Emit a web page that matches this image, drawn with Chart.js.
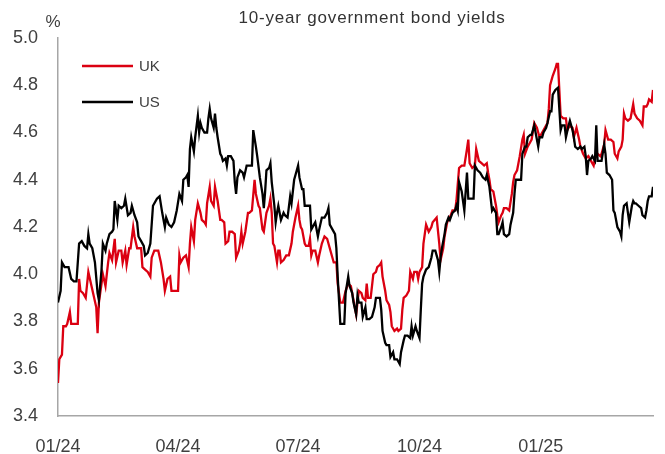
<!DOCTYPE html>
<html lang="en">
<head>
    <meta charset="UTF-8">
    <title>10-year government bond yields</title>
    <script src="https://cdnjs.cloudflare.com/ajax/libs/Chart.js/4.4.1/chart.umd.min.js"></script>
    <style>
        html, body { margin: 0; padding: 0; background: #fff; }
        #wrap { width: 665px; height: 454px; position: relative; }
    </style>
</head>
<body>
    <div id="wrap">
        <canvas id="canvasYields" aria-label="10-year government bond yields" role="img"></canvas>
    </div>

    <script>
        // x values are days since 1 Jan 2024
        const tickDays = [0, 91, 182, 274, 366]
        const tickLabels = ['01/24', '04/24', '07/24', '10/24', '01/25']

        const ukDays = [0,1,3,4,6,7,9,10,13,15,16,17,19,21,23,25,27,29,30,31,33,34,36,38,39,41,43,44,46,48,49,51,52,54,55,57,58,60,63,64,66,68,70,71,73,
            76,78,80,81,83,85,86,88,91,92,93,95,97,99,100,101,103,104,106,108,109,111,112,113,115,116,118,119,121,123,124,126,127,129,130,132,134,135,137,138,139,140,142,144,145,147,149,150,152,
            153,155,156,158,160,161,162,163,164,166,167,168,169,171,173,175,177,178,180,182,183,184,185,187,188,190,191,192,193,195,197,198,200,202,204,205,207,209,211,212,214,216,218,220,222,224,226,
            228,230,231,233,234,235,237,239,241,242,244,245,246,248,249,251,252,253,255,257,258,260,261,262,264,266,267,269,270,272,273,274,276,277,278,279,281,283,284,287,289,290,292,293,295,297,299,301,302,
            304,306,308,310,311,312,314,316,317,319,321,323,325,326,327,328,330,332,333,334,336,337,338,340,342,344,345,346,348,350,352,353,354,356,358,359,361,363,364,365,367,369,371,372,373,375,377,378,379,
            380,381,383,385,386,388,390,391,393,395,396,398,400,402,404,406,407,409,411,412,414,415,417,419,421,422,424,425,427,428,429,430,432,434,436,437,439,441,443,444,446,447,448,450,451]
        const ukYield = [3.54,3.64,3.66,3.78,3.78,3.79,3.84,3.79,3.79,3.79,3.98,3.93,3.92,3.90,4.01,3.96,3.91,3.86,3.75,3.88,3.96,4.00,3.95,4.05,4.09,4.06,4.15,4.05,4.10,4.10,4.05,4.10,4.04,4.11,4.11,4.20,4.16,4.11,4.11,4.03,4.02,4.01,3.99,4.07,4.10,
            4.10,4.05,3.98,3.93,3.98,3.99,3.93,3.93,3.93,4.08,4.05,4.07,4.08,4.03,4.13,4.20,4.14,4.23,4.30,4.26,4.23,4.22,4.21,4.30,4.37,4.31,4.29,4.37,4.31,4.23,4.23,4.22,4.13,4.14,4.18,4.18,4.17,4.07,4.10,4.13,4.18,4.13,4.18,4.26,4.26,4.27,4.40,4.34,4.29,
            4.28,4.19,4.18,4.26,4.29,4.32,4.26,4.13,4.12,4.05,4.10,4.10,4.05,4.06,4.08,4.08,4.13,4.18,4.24,4.29,4.23,4.20,4.19,4.13,4.12,4.12,4.15,4.08,4.10,4.10,4.05,4.08,4.13,4.16,4.15,4.13,4.09,4.05,4.05,3.96,3.88,3.88,3.93,3.96,3.95,3.89,3.83,
            3.93,3.92,3.90,3.89,3.96,3.90,3.90,4.00,4.01,4.03,4.04,4.05,3.99,3.93,3.89,3.87,3.84,3.78,3.76,3.77,3.76,3.77,3.85,3.90,3.91,3.93,4.01,3.98,4.01,4.01,3.98,4.01,4.03,4.13,4.17,4.21,4.18,4.20,4.22,4.24,4.13,4.06,4.11,4.16,4.22,4.24,4.27,4.27,4.31,
            4.45,4.46,4.46,4.53,4.57,4.47,4.45,4.46,4.53,4.48,4.47,4.46,4.47,4.43,4.40,4.36,4.35,4.29,4.25,4.22,4.25,4.26,4.28,4.28,4.27,4.34,4.39,4.42,4.44,4.50,4.57,4.59,4.51,4.54,4.56,4.57,4.64,4.62,4.60,4.58,4.60,4.62,4.64,4.70,4.80,4.84,4.87,4.89,4.89,
            4.78,4.67,4.66,4.66,4.61,4.63,4.62,4.58,4.62,4.57,4.54,4.51,4.49,4.50,4.48,4.46,4.49,4.51,4.50,4.51,4.55,4.61,4.57,4.57,4.56,4.51,4.49,4.52,4.54,4.57,4.68,4.66,4.65,4.66,4.72,4.68,4.66,4.65,4.63,4.71,4.71,4.72,4.74,4.73,4.78]

        const usDays = [0,2,3,5,8,10,12,14,16,18,20,22,23,24,26,28,30,31,33,34,36,37,39,41,42,43,45,46,48,50,51,53,55,56,58,60,61,63,65,66,68,70,72,75,77,
            79,81,82,84,86,88,90,92,94,95,97,98,99,100,101,103,104,106,107,108,109,111,113,114,115,116,118,119,120,121,123,124,125,127,128,129,131,133,134,135,136,138,140,141,143,145,147,148,150,
            151,153,155,156,157,158,160,161,162,164,165,166,167,169,171,172,174,176,177,179,181,182,183,185,186,187,189,191,192,194,195,197,198,200,202,204,205,206,208,210,211,212,214,215,217,218,220,221,223,224,226,227,
            228,230,231,233,234,236,238,240,241,244,245,246,248,249,251,252,254,255,257,259,260,262,263,265,267,268,269,271,272,274,275,276,277,279,281,283,284,286,288,289,290,291,293,294,296,297,299,301,302,303,
            304,306,307,308,310,311,313,315,316,318,320,322,324,325,327,328,329,330,332,333,334,336,337,338,340,342,343,345,346,347,350,351,352,354,355,356,358,359,361,362,364,365,367,368,370,371,373,374,375,377,379,
            380,381,382,384,385,387,388,390,391,392,394,396,397,399,400,401,402,404,405,407,408,409,411,412,414,415,416,418,420,421,422,424,426,427,428,429,431,432,433,435,436,437,438,440,442,443,445,446,447,448,450,451]
        const usYield = [3.88,3.93,4.05,4.03,4.03,3.98,3.97,3.97,4.13,4.14,4.12,4.11,4.17,4.13,4.11,4.05,3.92,3.89,4.02,4.13,4.10,4.13,4.17,4.18,4.19,4.31,4.23,4.29,4.28,4.29,4.32,4.25,4.26,4.29,4.25,4.22,4.16,4.14,4.12,4.08,4.09,4.13,4.29,4.32,4.33,
            4.26,4.20,4.24,4.21,4.20,4.22,4.27,4.34,4.31,4.40,4.41,4.42,4.37,4.53,4.58,4.52,4.58,4.67,4.60,4.64,4.62,4.60,4.60,4.66,4.70,4.66,4.62,4.68,4.62,4.58,4.51,4.50,4.48,4.49,4.46,4.50,4.50,4.48,4.39,4.34,4.41,4.44,4.43,4.41,4.46,4.46,4.46,4.61,4.54,
            4.50,4.41,4.34,4.28,4.35,4.44,4.45,4.47,4.39,4.29,4.22,4.26,4.29,4.23,4.26,4.25,4.24,4.33,4.30,4.40,4.44,4.46,4.41,4.36,4.36,4.29,4.29,4.29,4.19,4.21,4.22,4.16,4.19,4.24,4.24,4.26,4.28,4.21,4.19,4.17,4.11,3.99,3.79,3.79,3.79,3.92,3.99,3.95,3.92,3.88,3.83,3.91,
            3.88,3.88,3.82,3.86,3.81,3.81,3.82,3.86,3.90,3.90,3.85,3.76,3.71,3.70,3.70,3.65,3.67,3.64,3.64,3.62,3.67,3.72,3.74,3.74,3.73,3.78,3.74,3.78,3.76,3.73,3.85,3.96,3.99,4.02,4.03,4.07,4.10,4.10,4.06,4.01,4.07,4.11,4.17,4.21,4.24,4.23,4.26,4.27,4.29,4.27,
            4.39,4.35,4.31,4.27,4.43,4.32,4.32,4.32,4.46,4.44,4.43,4.41,4.40,4.42,4.37,4.32,4.27,4.28,4.26,4.17,4.17,4.20,4.22,4.17,4.16,4.17,4.21,4.26,4.34,4.40,4.40,4.40,4.51,4.54,4.54,4.58,4.59,4.59,4.63,4.60,4.54,4.58,4.58,4.60,4.62,4.64,4.69,4.69,4.76,4.78,4.79,
            4.70,4.61,4.63,4.63,4.58,4.63,4.65,4.61,4.58,4.54,4.53,4.54,4.53,4.54,4.50,4.42,4.48,4.49,4.50,4.48,4.63,4.48,4.48,4.48,4.55,4.51,4.43,4.42,4.40,4.27,4.26,4.20,4.18,4.16,4.25,4.29,4.30,4.26,4.22,4.29,4.31,4.30,4.30,4.29,4.28,4.25,4.24,4.27,4.31,4.33,4.33,4.37]

        const RED = '#db0011'
        const BLACK = '#000000'
        const FONT = "'Liberation Sans', Arial, sans-serif"

        // title, unit and the in-plot legend
        const extras = {
            id: 'extras',
            afterDraw(chart) {
                const ctx = chart.ctx
                ctx.save()
                ctx.fillStyle = '#333333'
                ctx.textBaseline = 'middle'
                ctx.font = '17px ' + FONT
                ctx.letterSpacing = '0.8px'
                ctx.textAlign = 'center'
                ctx.fillText('10-year government bond yields', 372, 18)
                ctx.letterSpacing = '0px'
                ctx.fillStyle = '#404040'
                ctx.fillText('%', 53, 22)

                const rows = [chart.data.datasets[0], chart.data.datasets[1]]
                rows.forEach((ds, i) => {
                    const y = 66 + i * 36
                    ctx.strokeStyle = ds.borderColor
                    ctx.lineWidth = 2.3
                    ctx.beginPath()
                    ctx.moveTo(82, y)
                    ctx.lineTo(133, y)
                    ctx.stroke()
                    ctx.fillStyle = '#404040'
                    ctx.textAlign = 'left'
                    ctx.font = '15px ' + FONT
                    ctx.fillText(ds.label, 139, y + 1)
                })
                ctx.restore()
            }
        }

        new Chart(document.getElementById('canvasYields'), {
            type: 'line',
            data: {
                datasets: [
                    {
                        label: 'UK',
                        data: ukDays.map((d, i) => ({ x: d, y: ukYield[i] })),
                        borderColor: RED,
                        borderWidth: 2.3,
                        pointRadius: 0,
                        order: 1,
                    },
                    {
                        label: 'US',
                        data: usDays.map((d, i) => ({ x: d, y: usYield[i] })),
                        borderColor: BLACK,
                        borderWidth: 2.3,
                        pointRadius: 0,
                        order: 0,
                    },
                ]
            },
            options: {
                responsive: true,
                maintainAspectRatio: false,
                animation: false,
                layout: { padding: { top: 38, right: 12, left: 0, bottom: 0 } },
                plugins: {
                    legend: { display: false },
                    title: { display: false },
                    tooltip: { enabled: false },
                },
                scales: {
                    x: {
                        type: 'linear',
                        min: 0,
                        max: 451,
                        grid: { display: false, drawTicks: false },
                        border: { color: '#a6a6a6', width: 1.5 },
                        afterBuildTicks: scale => { scale.ticks = tickDays.map(v => ({ value: v })) },
                        afterFit: scale => { scale.height = 38 },
                        ticks: {
                            autoSkip: false,
                            maxRotation: 0,
                            padding: 20,
                            color: '#404040',
                            font: { family: FONT, size: 18 },
                            callback: v => tickLabels[tickDays.indexOf(v)] || '',
                        },
                    },
                    y: {
                        min: 3.4,
                        max: 5.0,
                        grid: { display: false, drawTicks: false },
                        border: { color: '#a6a6a6', width: 1.5 },
                        afterFit: scale => { scale.width = 58 },
                        ticks: {
                            stepSize: 0.2,
                            padding: 20,
                            color: '#404040',
                            font: { family: FONT, size: 18 },
                            callback: v => v.toFixed(1),
                        },
                    },
                },
            },
            plugins: [extras],
        })
    </script>
</body>
</html>
